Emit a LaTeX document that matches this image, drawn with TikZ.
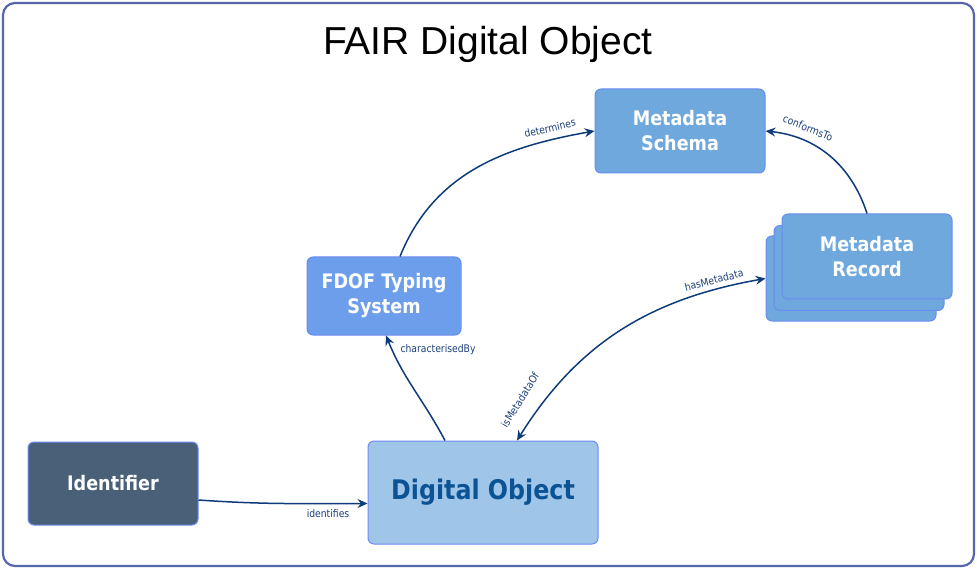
\documentclass[tikz,border=0pt]{standalone}
\usepackage{fontspec}
\setmainfont{Liberation Sans}
\newfontfamily\boxfont[FakeStretch=0.88]{DejaVu Sans}
\usetikzlibrary{arrows.meta}
\definecolor{framec}{HTML}{5566AA}
\definecolor{boxborder}{HTML}{6B8CF2}
\definecolor{schemafill}{HTML}{6FA8DC}
\definecolor{fdoffill}{HTML}{6D9EEB}
\definecolor{dofill}{HTML}{9FC5E8}
\definecolor{dotext}{HTML}{0B5394}
\definecolor{idfill}{HTML}{4A6078}
\definecolor{arrowc}{HTML}{0E3B7A}
\definecolor{labelc}{HTML}{1C3F7A}
\tikzset{
  box/.style={draw=boxborder, line width=1pt, rounded corners=6pt, align=center,
    font=\boxfont\bfseries\fontsize{20}{25}\selectfont, text=white, inner sep=0pt},
  conn/.style={draw=arrowc, line width=1.5pt, -{Stealth[length=10pt,width=9pt,inset=3.5pt]}},
  lbl/.style={font=\boxfont\fontsize{10.5}{12}\selectfont, text=labelc, inner sep=0pt}
}
\begin{document}
\begin{tikzpicture}[x=1pt,y=-1pt]
\useasboundingbox (0,0) rectangle (977,569);
\draw[framec, line width=2.2pt, rounded corners=12pt] (3,3) rectangle (974,566);
\node[font=\fontsize{39}{44}\selectfont] (title) at (488,44) {FAIR Digital Object};

\node[box, fill=schemafill, minimum width=170pt, minimum height=84pt] (schema) at (680,131) {Metadata\\Schema};
\node[box, fill=schemafill, minimum width=170pt, minimum height=85pt] (recback) at (851,278.5) {};
\node[box, fill=schemafill, minimum width=170pt, minimum height=85pt] (recmid) at (859,268) {};
\node[box, fill=schemafill, minimum width=170pt, minimum height=85pt] (record) at (867,256.5) {Metadata\\Record};
\node[box, fill=fdoffill, minimum width=154pt, minimum height=78pt] (fdof) at (384,296) {FDOF Typing\\System};
\node[box, fill=dofill, text=dotext, minimum width=230pt, minimum height=103pt,
  font=\boxfont\bfseries\fontsize{27}{32}\selectfont] (dobj) at (483,492.5) {Digital Object};
\node[box, fill=idfill, minimum width=170pt, minimum height=83pt] (ident) at (113,483.5) {Identifier};

\draw[conn] ([yshift=-16.5pt]ident.east) to[out=-4,in=180] ([yshift=-11pt]dobj.west);
\draw[conn] ([xshift=-38pt]dobj.north) to[out=118,in=-68] ([xshift=2pt]fdof.south);
\draw[conn] ([xshift=16pt]fdof.north) to[out=68,in=190] (schema.west);
\draw[conn] (record.north) to[out=108,in=-6] (schema.east);
\draw[conn, {Stealth[length=10pt,width=9pt,inset=3.5pt]}-{Stealth[length=10pt,width=9pt,inset=3.5pt]}]
  ([xshift=34pt]dobj.north) to[out=58,in=190] (recback.west);

\node[lbl] (lident) at (328,514) {identifies};
\node[lbl] (lchar) at (438,350) {characterisedBy};
\node[lbl, rotate=13] (ldet) at (550,128) {determines};
\node[lbl, rotate=-22] (lconf) at (808,128) {conformsTo};
\node[lbl, rotate=14] (lhas) at (714,280) {hasMetadata};
\node[lbl, rotate=58] (lis) at (520,400) {isMetadataOf};
\end{tikzpicture}
\end{document}
